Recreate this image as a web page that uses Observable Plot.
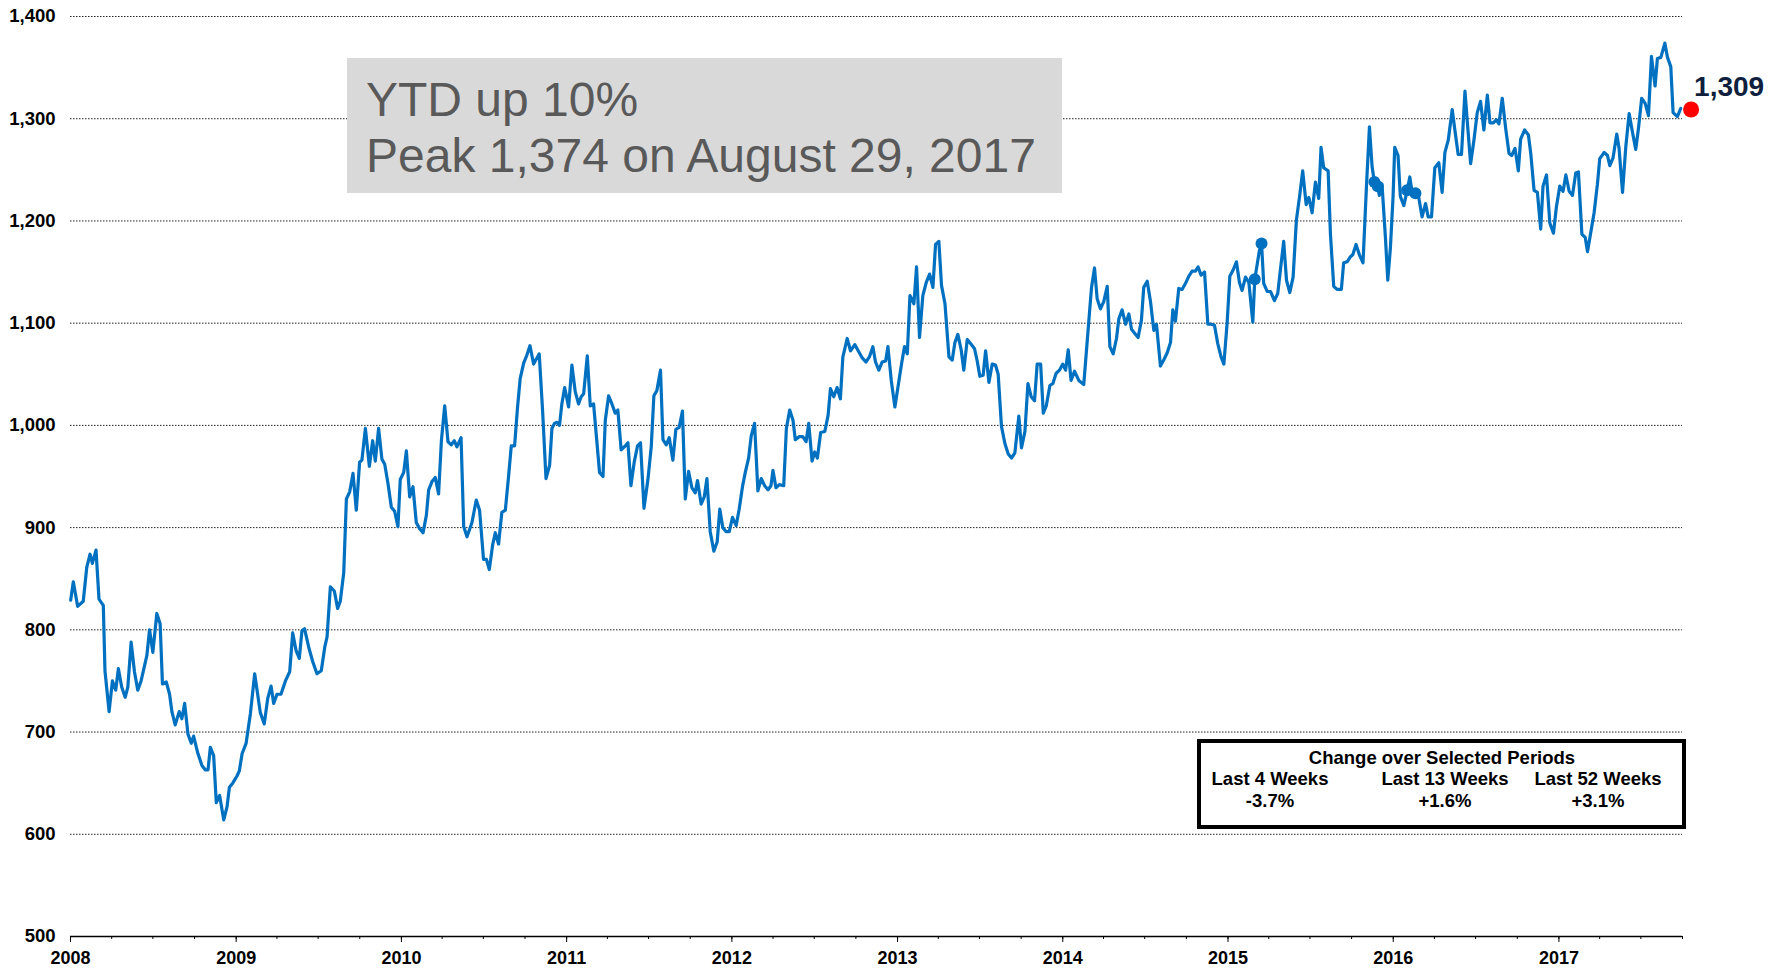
<!DOCTYPE html>
<html><head><meta charset="utf-8">
<script src="https://cdn.jsdelivr.net/npm/d3@7"></script>
<script src="https://cdn.jsdelivr.net/npm/@observablehq/plot@0.6"></script>
<style>
body{margin:0;background:#fff;}
#chart{position:relative;width:1783px;height:969px;}
</style>
</head><body><div id="chart"></div>
<script>
const FONT = "'Liberation Sans', Arial, Helvetica, sans-serif";

// Weekly index readings (decimal year, value)
const dates = [
2008.001,2008.017,2008.043,2008.077,2008.098,2008.118,2008.132,2008.154,2008.172,2008.198,2008.208,2008.233,2008.253,2008.273,2008.289,2008.309,2008.330,2008.346,2008.366,2008.386,2008.406,2008.426,2008.447,2008.461,2008.477,2008.497,2008.521,2008.541,2008.555,2008.578,2008.598,2008.612,2008.632,2008.656,2008.672,2008.689,2008.709,2008.729,2008.743,2008.769,2008.794,2008.814,2008.830,2008.844,2008.864,2008.880,2008.900,2008.925,2008.945,2008.959,2008.979,2009.005,2009.019,2009.036,2009.060,2009.086,2009.112,
2009.146,2009.170,2009.191,2009.211,2009.227,2009.247,2009.271,2009.298,2009.324,2009.342,2009.362,2009.382,2009.398,2009.414,2009.439,2009.463,2009.489,2009.515,2009.536,2009.550,2009.570,2009.594,2009.614,2009.630,2009.651,2009.667,2009.687,2009.707,2009.727,2009.747,2009.761,2009.782,2009.806,2009.826,2009.842,2009.862,2009.882,2009.899,2009.919,2009.939,2009.959,2009.979,2009.993,
2010.014,2010.030,2010.050,2010.070,2010.090,2010.110,2010.131,2010.151,2010.165,2010.185,2010.205,2010.225,2010.242,2010.262,2010.282,2010.302,2010.320,2010.336,2010.361,2010.377,2010.397,2010.427,2010.453,2010.473,2010.497,2010.514,2010.532,2010.552,2010.568,2010.588,2010.608,2010.629,2010.649,2010.665,2010.685,2010.703,2010.719,2010.740,2010.760,2010.778,2010.800,2010.834,2010.854,2010.875,2010.897,2010.911,2010.927,2010.941,2010.957,2010.971,2010.988,
2011.012,2011.032,2011.052,2011.072,2011.088,2011.103,2011.125,2011.143,2011.163,2011.183,2011.199,2011.220,2011.234,2011.254,2011.274,2011.294,2011.310,2011.330,2011.355,2011.371,2011.389,2011.409,2011.429,2011.447,2011.468,2011.492,2011.512,2011.528,2011.546,2011.568,2011.583,2011.603,2011.621,2011.643,2011.661,2011.681,2011.701,2011.718,2011.738,2011.758,2011.778,2011.792,2011.814,2011.833,2011.849,2011.869,2011.891,2011.911,2011.927,2011.945,2011.966,2011.984,
2012.004,2012.026,2012.044,2012.064,2012.081,2012.101,2012.117,2012.137,2012.157,2012.177,2012.198,2012.218,2012.236,2012.248,2012.266,2012.286,2012.313,2012.329,2012.349,2012.369,2012.383,2012.407,2012.428,2012.448,2012.464,2012.484,2012.500,2012.516,2012.536,2012.561,2012.581,2012.595,2012.615,2012.635,2012.655,2012.670,2012.696,2012.716,2012.742,2012.766,2012.787,2012.809,2012.830,2012.851,2012.867,2012.887,2012.907,2012.928,2012.942,2012.962,2012.984,
2013.004,2013.024,2013.042,2013.059,2013.075,2013.099,2013.115,2013.133,2013.153,2013.174,2013.194,2013.214,2013.230,2013.250,2013.266,2013.287,2013.311,2013.331,2013.347,2013.365,2013.385,2013.401,2013.422,2013.442,2013.466,2013.482,2013.498,2013.518,2013.533,2013.553,2013.573,2013.593,2013.609,2013.629,2013.650,2013.670,2013.690,2013.710,2013.734,2013.750,2013.771,2013.789,2013.809,2013.829,2013.845,2013.866,2013.882,2013.900,2013.922,2013.940,2013.960,2013.980,
2014.000,2014.017,2014.033,2014.050,2014.071,2014.097,2014.127,2014.158,2014.174,2014.192,2014.208,2014.228,2014.248,2014.269,2014.285,2014.305,2014.325,2014.339,2014.359,2014.380,2014.400,2014.416,2014.436,2014.456,2014.476,2014.490,2014.511,2014.531,2014.551,2014.567,2014.591,2014.611,2014.632,2014.652,2014.666,2014.682,2014.702,2014.722,2014.743,2014.763,2014.783,2014.803,2014.819,2014.837,2014.858,2014.878,2014.898,2014.918,2014.938,2014.958,2014.975,2014.995,
2015.011,2015.031,2015.051,2015.069,2015.085,2015.106,2015.126,2015.150,2015.162,2015.190,2015.203,2015.216,2015.237,2015.257,2015.281,2015.301,2015.317,2015.337,2015.354,2015.374,2015.394,2015.414,2015.434,2015.452,2015.473,2015.489,2015.509,2015.529,2015.549,2015.563,2015.579,2015.606,2015.620,2015.640,2015.660,2015.686,2015.700,2015.721,2015.741,2015.755,2015.775,2015.797,2015.817,2015.838,2015.856,2015.872,2015.886,2015.906,2015.916,2015.932,2015.953,2015.967,2015.983,2015.999,
2016.009,2016.029,2016.043,2016.064,2016.084,2016.100,2016.114,2016.134,2016.154,2016.174,2016.195,2016.211,2016.231,2016.251,2016.275,2016.295,2016.312,2016.332,2016.356,2016.372,2016.392,2016.412,2016.433,2016.449,2016.467,2016.487,2016.507,2016.527,2016.547,2016.568,2016.584,2016.604,2016.622,2016.638,2016.658,2016.679,2016.699,2016.715,2016.735,2016.755,2016.769,2016.793,2016.816,2016.830,2016.850,2016.870,2016.890,2016.904,2016.925,2016.945,2016.967,2016.985,
2017.005,2017.025,2017.042,2017.062,2017.082,2017.102,2017.118,2017.139,2017.159,2017.173,2017.193,2017.213,2017.233,2017.247,2017.274,2017.294,2017.308,2017.328,2017.350,2017.364,2017.385,2017.405,2017.425,2017.445,2017.465,2017.481,2017.501,2017.522,2017.542,2017.560,2017.582,2017.596,2017.617,2017.641,2017.657,2017.677,2017.691,2017.717,2017.737
];
const values = [
829,847,823,828,861,874,865,878,830,824,760,720,750,741,762,744,734,744,788,759,741,750,765,775,800,778,816,806,747,749,737,720,707,720,713,728,698,689,696,679,667,663,663,685,677,631,638,614,627,646,650,657,662,679,689,718,757,
719,708,733,745,728,737,737,750,759,797,780,772,799,801,783,769,757,760,783,793,842,838,821,828,856,928,935,953,917,964,966,997,960,985,965,997,967,962,943,920,916,901,947,
954,975,930,940,905,899,895,912,937,945,949,933,985,1019,984,981,985,979,988,901,891,905,927,917,869,869,859,883,895,884,915,917,951,980,980,1018,1046,1061,1069,1078,1060,1070,1016,948,961,997,1002,1003,1000,1021,1037,
1018,1059,1033,1021,1028,1031,1068,1019,1021,984,954,950,1005,1029,1021,1012,1015,976,980,983,941,964,980,983,919,947,979,1029,1034,1054,986,981,988,966,996,998,1014,928,955,939,934,946,923,930,948,896,877,886,918,900,896,896,
910,902,918,940,954,968,990,1002,936,948,941,937,941,956,939,942,941,997,1015,1005,986,989,989,984,1002,965,974,968,993,994,1010,1036,1028,1037,1026,1067,1085,1073,1079,1072,1066,1062,1067,1077,1062,1054,1062,1063,1077,1044,1018,
1039,1060,1077,1070,1127,1119,1155,1086,1127,1140,1148,1135,1177,1180,1137,1119,1067,1064,1081,1089,1074,1054,1084,1080,1075,1063,1048,1049,1073,1042,1060,1059,1050,999,982,972,968,973,1009,978,994,1041,1028,1024,1060,1060,1012,1019,1039,1041,1051,1054,
1060,1054,1074,1044,1053,1044,1040,1103,1135,1154,1124,1114,1121,1136,1077,1070,1085,1104,1113,1099,1109,1094,1090,1086,1103,1135,1141,1121,1093,1099,1058,1064,1071,1081,1113,1102,1134,1133,1139,1146,1151,1151,1155,1147,1150,1099,1099,1098,1080,1067,1060,1101,
1146,1152,1160,1140,1132,1145,1140,1101,1143,1171,1178,1139,1131,1131,1122,1129,1152,1180,1142,1130,1145,1201,1225,1249,1216,1223,1208,1238,1222,1272,1252,1249,1187,1136,1133,1133,1159,1160,1165,1167,1177,1166,1159,1234,1292,1253,1238,1234,1225,1236,1183,1142,1174,1224,
1272,1264,1224,1215,1230,1243,1228,1227,1223,1204,1217,1204,1204,1252,1257,1228,1267,1279,1309,1289,1265,1265,1327,1293,1256,1279,1306,1317,1289,1323,1296,1296,1299,1295,1320,1290,1266,1264,1271,1249,1280,1289,1284,1266,1230,1228,1192,1234,1245,1198,1188,1214,
1234,1229,1245,1229,1225,1247,1248,1187,1184,1170,1189,1208,1236,1261,1267,1264,1254,1262,1285,1271,1228,1273,1305,1287,1270,1290,1320,1315,1303,1361,1332,1359,1360,1374,1360,1351,1306,1302,1310
];

// Highlighted weeks (blue dots) and the latest reading (red dot)
const markerDates = [2015.162, 2015.203, 2015.886, 2015.906, 2016.084, 2016.134];
const markerValues = [1143, 1178, 1238, 1234, 1230, 1227];
const latestDate = 2017.80;
const latestValue = 1309;

const yTicks = [500, 600, 700, 800, 900, 1000, 1100, 1200, 1300, 1400];
const gridValues = [600, 700, 800, 900, 1000, 1100, 1200, 1300, 1400];
const yearTicks = [2008, 2009, 2010, 2011, 2012, 2013, 2014, 2015, 2016, 2017];

const annotationLines = ["YTD up 10%", "Peak 1,374 on August 29, 2017"];
const tableTitle = "Change over Selected Periods";
const periodLabels = ["Last 4 Weeks", "Last 13 Weeks", "Last 52 Weeks"];
const periodChanges = ["-3.7%", "+1.6%", "+3.1%"];

function toDate(t) {
  const y = Math.floor(t);
  const s = Date.UTC(y, 0, 1), e = Date.UTC(y + 1, 0, 1);
  return new Date(s + (t - y) * (e - s));
}

const series = dates.map((d, i) => ({date: toDate(d), value: values[i]}));
const markers = markerDates.map((d, i) => ({date: toDate(d), value: markerValues[i]}));
const latest = [{date: toDate(latestDate), value: latestValue}];
const yearDates = yearTicks.map(y => new Date(Date.UTC(y, 0, 1)));
const quarterDates = [];
for (const y of yearTicks) for (const m of [0, 3, 6, 9]) quarterDates.push(new Date(Date.UTC(y, m, 1)));

const chart = Plot.plot({
  width: 1783,
  height: 969,
  marginLeft: 70,
  marginRight: 101,
  marginTop: 16,
  marginBottom: 33,
  style: {fontFamily: FONT, background: "#fff", overflow: "visible", color: "#000"},
  x: {type: "utc", domain: [new Date(Date.UTC(2008, 0, 1)), new Date(Date.UTC(2017, 9, 1))]},
  y: {domain: [500, 1400]},
  marks: [
    Plot.ruleY(gridValues, {stroke: "#222", strokeWidth: 1, strokeDasharray: "1.5,1.5"}),
    Plot.ruleY([500], {stroke: "#000", strokeWidth: 1.5}),
    Plot.axisY({ticks: yTicks, tickSize: 0, tickPadding: 15, tickFormat: d3.format(","), fontSize: 18.5, fontWeight: "bold", fill: "#000", label: null}),
    Plot.axisX({ticks: quarterDates, tickSize: 3, tickFormat: () => "", label: null, stroke: "#000"}),
    Plot.axisX({ticks: yearDates, tickSize: 6, tickPadding: 9, tickFormat: d3.utcFormat("%Y"), fontSize: 18, fontWeight: "bold", fill: "#000", stroke: "#000", label: null}),
    Plot.line(series, {x: "date", y: "value", stroke: "#0070c0", strokeWidth: 3.2, strokeLinejoin: "round"}),
    Plot.dot(markers, {x: "date", y: "value", r: 6, fill: "#0070c0"}),
    Plot.dot(latest, {x: "date", y: "value", r: 8, fill: "#ff0000"}),
    Plot.text(latest, {x: "date", y: "value", text: d => d3.format(",")(d.value), dx: 3, dy: -22, textAnchor: "start", fontSize: 28, fontWeight: "bold", fill: "#0f1f3d"})
  ]
});

document.getElementById("chart").appendChild(chart);
const svg = d3.select(chart);

// Annotation box
const ann = svg.append("g").attr("text-anchor", "start");
ann.append("rect").attr("x", 347).attr("y", 58).attr("width", 715).attr("height", 135).attr("fill", "#d9d9d9");
annotationLines.forEach((t, i) => {
  ann.append("text").attr("x", 366).attr("y", 116 + i * 56).attr("text-anchor", "start")
    .attr("font-size", 48).attr("fill", "#595959").attr("font-family", FONT).text(t);
});

// Change table
const tb = svg.append("g").attr("font-family", FONT).attr("font-weight", "bold").attr("font-size", 18.5).attr("fill", "#000").attr("text-anchor", "middle");
tb.append("rect").attr("x", 1199).attr("y", 741).attr("width", 485).attr("height", 86).attr("fill", "#fff").attr("stroke", "#000").attr("stroke-width", 4);
tb.append("text").attr("x", 1442).attr("y", 764).text(tableTitle);
const colX = [1270, 1445, 1598];
periodLabels.forEach((t, i) => tb.append("text").attr("x", colX[i]).attr("y", 785).text(t));
periodChanges.forEach((t, i) => tb.append("text").attr("x", colX[i]).attr("y", 807).text(t));
</script>
</body></html>
